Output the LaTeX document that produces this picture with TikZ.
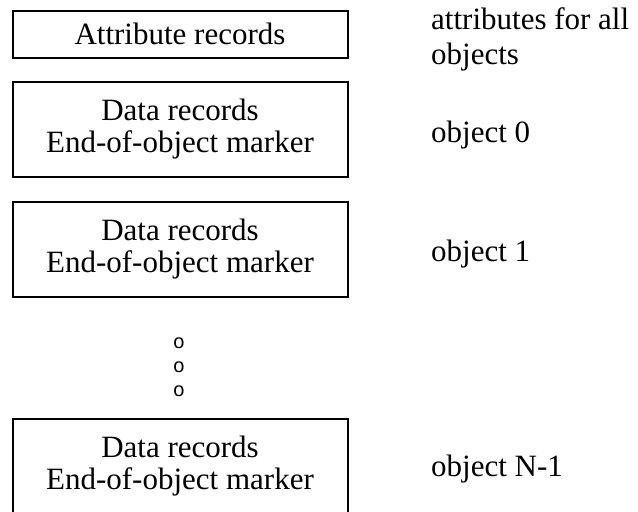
\documentclass[tikz,border=0pt]{standalone}
\usepackage{fontspec}
\setmainfont{Liberation Serif}
\newfontfamily\dotfont{Liberation Sans}
\begin{document}
\begin{tikzpicture}[x=1pt,y=-1pt,
  recbox/.style={draw, line width=2pt, minimum width=335pt, inner sep=0pt,
    align=center, font=\fontsize{31}{32}\selectfont},
  note/.style={inner sep=0pt, align=left, font=\fontsize{31}{35}\selectfont},
  dot/.style={inner sep=0pt, font=\dotfont\fontsize{20}{20}\selectfont}]
\clip (0,0) rectangle (638,512);
\useasboundingbox (0,0) rectangle (638,512);

% record layout, top to bottom
\node[recbox, minimum height=47pt] (attr) at (180,34) {Attribute records};
\node[recbox, minimum height=95pt] (obj0) at (180,129.5) {Data records\\End-of-object marker};
\node[recbox, minimum height=95pt] (obj1) at (180,249.5) {Data records\\End-of-object marker};
\node[recbox, minimum height=95pt] (objN) at (180,466.5) {Data records\\End-of-object marker};

% ellipsis between object 1 and object N-1
\node[dot] (d1) at (179,343) {o};
\node[dot] (d2) at (179,367) {o};
\node[dot] (d3) at (179,391) {o};

% descriptions on the right
\node[note, anchor=north west] (lattr) at (431,7) {attributes for all\\objects};
\node[note, anchor=base west] (l0) at (431,142) {object 0};
\node[note, anchor=base west] (l1) at (431,261) {object 1};
\node[note, anchor=base west] (lN) at (431,476) {object N-1};
\end{tikzpicture}
\end{document}
